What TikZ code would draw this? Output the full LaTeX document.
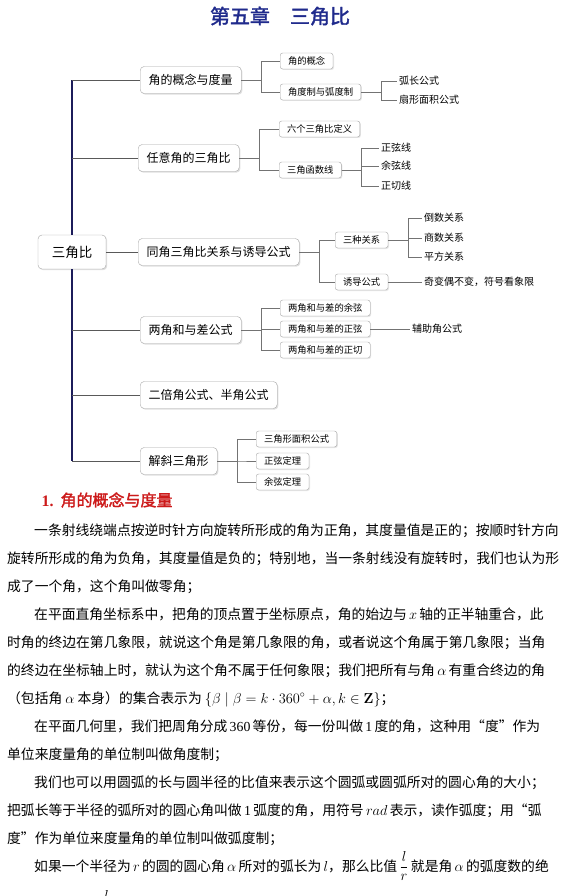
\documentclass[tikz,border=0pt]{standalone}
\usepackage[no-math]{fontspec}
\setmainfont{Liberation Serif}
\newfontfamily\cjk{Noto Sans CJK SC}
\newfontfamily\cjkbold[FakeBold=2]{Noto Sans CJK SC}
\usepackage{amsmath}
\usepackage{xcolor}
\usepackage{tikz}
\usetikzlibrary{shadows}
\XeTeXlinebreaklocale "zh"
\XeTeXlinebreakskip=0pt plus 3pt
\definecolor{chapblue}{HTML}{1F2A8C}
\definecolor{headred}{HTML}{CC1A1A}
\definecolor{trunkblue}{HTML}{1C1C5A}
\newcommand\bodyfont{\cjk\fontsize{13.8}{17}\selectfont}

\begin{document}
\begin{tikzpicture}[x=1pt,y=-1pt]
\tikzstyle{root} = [rectangle, draw=gray!70, fill=white, rounded corners=4pt, minimum width=68pt, minimum height=34pt, font=\cjk\fontsize{13.5}{16}\selectfont, drop shadow={shadow xshift=1.2pt, shadow yshift=-1.2pt, opacity=0.25}]
\tikzstyle{topic} = [rectangle, draw=gray!70, fill=white, rounded corners=4pt, anchor=west, inner xsep=8.5pt, minimum height=27pt, font=\cjk\fontsize{12}{14}\selectfont, drop shadow={shadow xshift=1.2pt, shadow yshift=-1.2pt, opacity=0.25}]
\tikzstyle{sub} = [rectangle, draw=gray!70, fill=white, rounded corners=2.5pt, anchor=west, inner xsep=7.8pt, inner ysep=1pt, minimum height=16pt, font=\cjk\fontsize{9.3}{11}\selectfont, drop shadow={shadow xshift=1pt, shadow yshift=-1pt, opacity=0.2}]
\tikzstyle{leaf} = [anchor=west, inner xsep=2pt, inner ysep=1pt, font=\cjk\fontsize{10}{12}\selectfont]
\tikzstyle{line} = [draw=black!55, line width=0.7pt]
\tikzstyle{spoke} = [draw=black!65, line width=0.8pt]
\tikzstyle{trunk} = [draw=trunkblue, line width=1.6pt]
\tikzstyle{para} = [anchor=base west, inner sep=0pt, font=\bodyfont]

\useasboundingbox (0,0) rectangle (564,896);

\node [font=\cjkbold\fontsize{20}{24}\selectfont, text=chapblue] (title) at (280,16) {第五章\quad 三角比};

\node [root] (chap) at (72,252) {三角比};
\node [topic] (topic1) at (140,80) {角的概念与度量};
\node [topic] (topic2) at (138,158) {任意角的三角比};
\node [topic, minimum width=157pt] (topic3) at (138,252) {同角三角比关系与诱导公式};
\node [topic] (topic4) at (140,330) {两角和与差公式};
\node [topic] (topic5) at (140,395) {二倍角公式、半角公式};
\node [topic] (topic6) at (140,461) {解斜三角形};

\node [sub] (sub11) at (280,61) {角的概念};
\node [sub] (sub12) at (280,92) {角度制与弧度制};
\node [sub] (sub21) at (279,129) {六个三角比定义};
\node [sub] (sub22) at (279,170) {三角函数线};
\node [sub] (sub31) at (335,240) {三种关系};
\node [sub] (sub32) at (335,282) {诱导公式};
\node [sub] (sub41) at (280,308) {两角和与差的余弦};
\node [sub] (sub42) at (280,329) {两角和与差的正弦};
\node [sub] (sub43) at (280,350) {两角和与差的正切};
\node [sub] (sub61) at (256,439) {三角形面积公式};
\node [sub] (sub62) at (256,461) {正弦定理};
\node [sub] (sub63) at (256,482) {余弦定理};

\node [leaf] (leaf121) at (397,81) {弧长公式};
\node [leaf] (leaf122) at (397,100) {扇形面积公式};
\node [leaf] (leaf221) at (379,148) {正弦线};
\node [leaf] (leaf222) at (379,166) {余弦线};
\node [leaf] (leaf223) at (379,186) {正切线};
\node [leaf] (leaf311) at (422,218) {倒数关系};
\node [leaf] (leaf312) at (422,238) {商数关系};
\node [leaf] (leaf313) at (422,257) {平方关系};
\node [leaf] (leaf321) at (422,282) {奇变偶不变，符号看象限};
\node [leaf] (leaf421) at (410,329) {辅助角公式};

\path [trunk] (chap.north) -- (chap.north |- topic1.west);
\path [trunk] (chap.south) -- (chap.south |- topic6.west);
\path [spoke] (chap.north |- topic1.west) -- (topic1.west);
\path [spoke] (chap.north |- topic2.west) -- (topic2.west);
\path [spoke] (chap.east) -- (topic3.west);
\path [spoke] (chap.south |- topic4.west) -- (topic4.west);
\path [spoke] (chap.south |- topic5.west) -- (topic5.west);
\path [spoke] (chap.south |- topic6.west) -- (topic6.west);

\path [line] (topic1.east) -- ++(20,0) |- (sub11.west);
\path [line] (topic1.east) -- ++(20,0) |- (sub12.west);
\path [line] (sub12.east) -- ++(20,0) |- (leaf121.west);
\path [line] (sub12.east) -- ++(20,0) |- (leaf122.west);
\path [line] (topic2.east) -- ++(20,0) |- (sub21.west);
\path [line] (topic2.east) -- ++(20,0) |- (sub22.west);
\path [line] (sub22.east) -- ++(20,0) |- (leaf221.west);
\path [line] (sub22.east) -- ++(20,0) |- (leaf222.west);
\path [line] (sub22.east) -- ++(20,0) |- (leaf223.west);
\path [line] (topic3.east) -- ++(20,0) |- (sub31.west);
\path [line] (topic3.east) -- ++(20,0) |- (sub32.west);
\path [line] (sub31.east) -- ++(20,0) |- (leaf311.west);
\path [line] (sub31.east) -- ++(20,0) |- (leaf312.west);
\path [line] (sub31.east) -- ++(20,0) |- (leaf313.west);
\path [line] (sub32.east) -- (leaf321.west);
\path [line] (topic4.east) -- ++(20,0) |- (sub41.west);
\path [line] (topic4.east) -- ++(20,0) |- (sub42.west);
\path [line] (topic4.east) -- ++(20,0) |- (sub43.west);
\path [line] (sub42.east) -- (leaf421.west);
\path [line] (topic6.east) -- ++(20,0) |- (sub61.west);
\path [line] (topic6.east) -- ++(20,0) |- (sub62.west);
\path [line] (topic6.east) -- ++(20,0) |- (sub63.west);

\node [anchor=west, font=\cjkbold\fontsize{16}{19}\selectfont, text=headred] (sec1) at (38,500) {{\rmfamily\bfseries 1.}\hspace{7pt}角的概念与度量};

\node [para] (line1) at (34,535) {\hbox to 525pt{一条射线绕端点按逆时针方向旋转所形成的角为正角，其度量值是正的；按顺时针方向}};
\node [para] (line2) at (7,563) {\hbox to 552pt{旋转所形成的角为负角，其度量值是负的；特别地，当一条射线没有旋转时，我们也认为形}};
\node [para] (line3) at (7,591) {成了一个角，这个角叫做零角；};
\node [para] (line4) at (34,619) {\hbox to 525pt{在平面直角坐标系中，把角的顶点置于坐标原点，角的始边与\,$x$\,轴的正半轴重合，此}};
\node [para] (line5) at (7,647) {\hbox to 552pt{时角的终边在第几象限，就说这个角是第几象限的角，或者说这个角属于第几象限；当角}};
\node [para] (line6) at (7,675) {\hbox to 552pt{的终边在坐标轴上时，就认为这个角不属于任何象限；我们把所有与角\,$\alpha$\,有重合终边的角}};
\node [para] (line7) at (7,703) {（包括角 $\alpha$ 本身）的集合表示为 $\{\beta\mid\beta=k\cdot 360^\circ+\alpha,k\in\mathbf{Z}\}$；};
\node [para] (line8) at (34,731) {\hbox to 525pt{在平面几何里，我们把周角分成\,{\rmfamily 360}\,等份，每一份叫做\,{\rmfamily 1}\,度的角，这种用“度”作为}};
\node [para] (line9) at (7,759) {单位来度量角的单位制叫做角度制；};
\node [para] (line10) at (34,787) {\hbox to 525pt{我们也可以用圆弧的长与圆半径的比值来表示这个圆弧或圆弧所对的圆心角的大小；}};
\node [para] (line11) at (7,815) {\hbox to 552pt{把弧长等于半径的弧所对的圆心角叫做\,{\rmfamily 1}\,弧度的角，用符号\,$rad$\,表示，读作弧度；用“弧}};
\node [para] (line12) at (7,843) {度”作为单位来度量角的单位制叫做弧度制；};
\node [para] (line13) at (34,871) {\hbox to 525pt{如果一个半径为\,$r$\,的圆的圆心角\,$\alpha$\,所对的弧长为\,$l$，那么比值\,$\dfrac{l}{r}$\,就是角\,$\alpha$\,的弧度数的绝}};
\node [para] (line14) at (104,900) {$l$};

\end{tikzpicture}
\end{document}
